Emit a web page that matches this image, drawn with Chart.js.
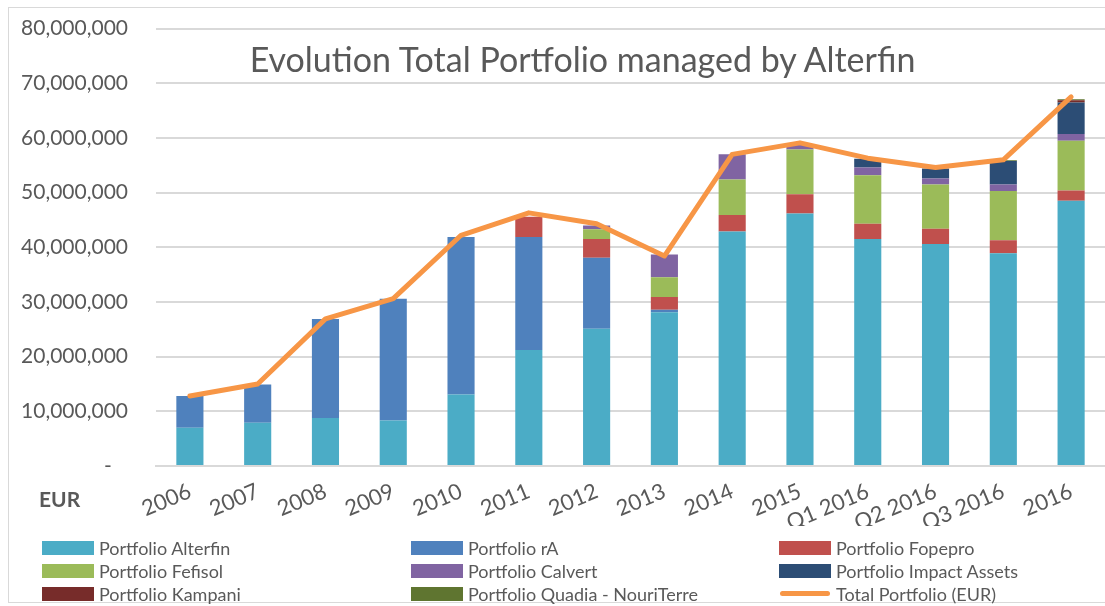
<!DOCTYPE html>
<html>
<head>
<meta charset="utf-8">
<script src="https://cdn.jsdelivr.net/npm/chart.js@4.4.1/dist/chart.umd.min.js"></script>
<style>
  html, body { margin: 0; padding: 0; background: #fff; }
  #wrap { position: relative; width: 1105px; height: 606px; overflow: hidden; font-family: Lato, sans-serif; }
  #frame { position: absolute; left: 8px; top: 7px; width: 1110px; height: 596px; border: 1.5px solid #d9d9d9; box-sizing: border-box; }
  #title { position: absolute; left: 150px; width: 865px; top: 38px; text-align: center; font-size: 34px; color: #595959; white-space: nowrap; }
  #eur { position: absolute; left: 39px; top: 486px; font-size: 21px; font-weight: bold; color: #595959; }
  canvas { position: absolute; left: 0; top: -12px; }
  .lg { position: absolute; font-size: 18px; color: #595959; white-space: nowrap; line-height: 20px; }
  .lg .bx { position: absolute; left: 0; top: 3px; width: 52px; height: 14px; }
  .lg .ln { position: absolute; left: 1px; top: 7px; width: 50px; height: 5px; border-radius: 3px; }
  .lg span.t { position: absolute; left: 57px; top: 0; }
</style>
</head>
<body>
<div id="wrap">
  <div id="frame"></div>
  <canvas id="c" width="1105" height="618"></canvas>
  <div id="title">Evolution Total Portfolio managed by Alterfin</div>
  <div id="eur">EUR</div>
  <div id="legend"></div>
</div>
<script>
const categories = ["2006","2007","2008","2009","2010","2011","2012","2013","2014","2015","Q1 2016","Q2 2016","Q3 2016","2016"];
const alterfin   = [7000000, 7900000, 8800000, 8300000, 13100000, 21200000, 25100000, 28100000, 42900000, 46200000, 41500000, 40600000, 38900000, 48500000];
const rA         = [5800000, 7000000, 18100000, 22300000, 28800000, 20700000, 13000000, 500000, 0, 0, 0, 0, 0, 0];
const fopepro    = [0, 0, 0, 0, 0, 3700000, 3400000, 2300000, 3000000, 3500000, 2800000, 2800000, 2400000, 1900000];
const fefisol    = [0, 0, 0, 0, 0, 0, 1800000, 3600000, 6500000, 8200000, 8900000, 8100000, 9000000, 9100000];
const calvert    = [0, 0, 0, 0, 0, 0, 700000, 4200000, 4600000, 800000, 1400000, 1100000, 1200000, 1200000];
const impact     = [0, 0, 0, 0, 0, 0, 0, 0, 0, 0, 1600000, 1800000, 4300000, 5800000];
const kampani    = [0, 0, 0, 0, 0, 0, 0, 0, 0, 0, 0, 0, 0, 400000];
const quadia     = [0, 0, 0, 0, 0, 0, 0, 0, 0, 0, 0, 0, 100000, 200000];
const total      = [12800000, 15000000, 26900000, 30600000, 42200000, 46300000, 44300000, 38400000, 57000000, 59100000, 56300000, 54600000, 56000000, 67500000];

const gray = '#595959';
const grid = '#d9d9d9';
function bar(label, data, color) {
  return { type: 'bar', label, data, backgroundColor: color, borderWidth: 0, stack: 'p', order: 2,
           barPercentage: 0.8, categoryPercentage: 0.5 };
}
const datasets = [
  bar('Portfolio Alterfin', alterfin, '#4BACC6'),
  bar('Portfolio rA', rA, '#4F81BD'),
  bar('Portfolio Fopepro', fopepro, '#C0504D'),
  bar('Portfolio Fefisol', fefisol, '#9BBB59'),
  bar('Portfolio Calvert', calvert, '#8064A2'),
  bar('Portfolio Impact Assets', impact, '#2C4D75'),
  bar('Portfolio Kampani', kampani, '#772C2A'),
  bar('Portfolio Quadia - NouriTerre', quadia, '#5F7530'),
  { type: 'line', label: 'Total Portfolio (EUR)', data: total, borderColor: '#F79646', backgroundColor: '#F79646',
    borderWidth: 5, pointRadius: 0, tension: 0, stack: 't', order: 1, borderCapStyle: 'round', borderJoinStyle: 'round' }
];

const chart = new Chart(document.getElementById('c'), {
  data: { labels: categories, datasets },
  options: {
    responsive: false, animation: false,
    layout: { padding: { top: 0, right: 0, left: 0, bottom: 80 } },
    plugins: { legend: { display: false }, tooltip: { enabled: false }, title: { display: false } },
    scales: {
      x: {
        stacked: true,
        grid: { display: false },
        border: { color: grid, width: 2 },
        ticks: { color: gray, font: { family: 'Lato', size: 22 }, minRotation: 23, maxRotation: 23, padding: 4, autoSkip: false },
        afterFit: (s) => { s.height = 60; }
      },
      y: {
        stacked: true, min: 0, max: 80000000,
        grid: { color: grid, lineWidth: 2, drawTicks: false },
        border: { display: false },
        ticks: { stepSize: 10000000, color: gray, font: { family: 'Lato', size: 21 }, padding: 28,
                 callback: (v) => v === 0 ? '-   ' : v.toLocaleString('en-US') },
        afterFit: (s) => { s.width = 156; }
      }
    }
  }
});

// HTML legend built from the chart's datasets
const cols = [42, 411, 779];
const rows = [538, 561, 584];
const lg = document.getElementById('legend');
chart.data.datasets.forEach((ds, i) => {
  const d = document.createElement('div');
  d.className = 'lg';
  d.style.left = cols[i % 3] + 'px';
  d.style.top = rows[Math.floor(i / 3)] + 'px';
  const sw = document.createElement('div');
  sw.className = ds.type === 'line' ? 'ln' : 'bx';
  sw.style.background = ds.type === 'line' ? ds.borderColor : ds.backgroundColor;
  const t = document.createElement('span');
  t.className = 't';
  t.textContent = ds.label;
  d.appendChild(sw); d.appendChild(t);
  lg.appendChild(d);
});
</script>
</body>
</html>
